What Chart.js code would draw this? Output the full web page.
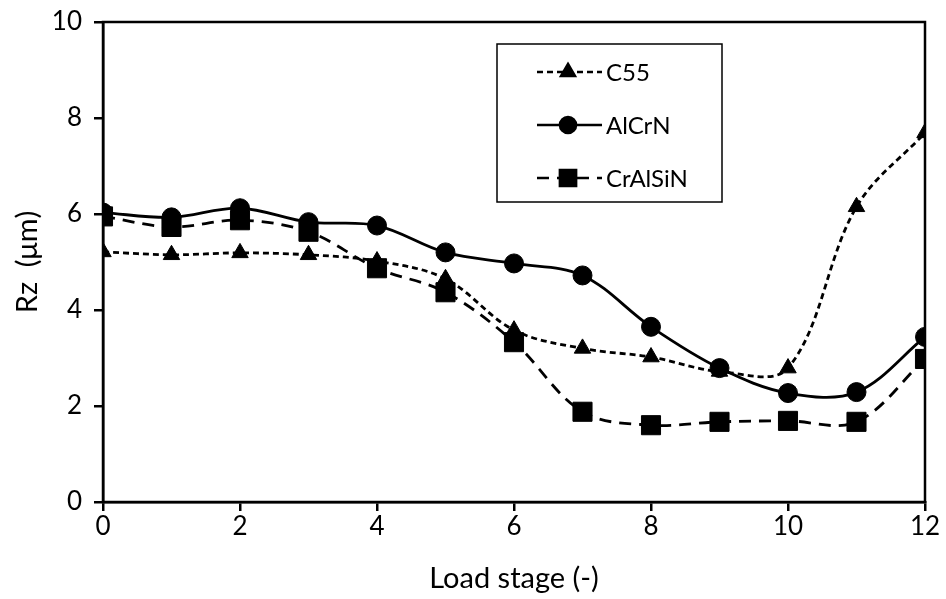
<!DOCTYPE html>
<html>
<head>
<meta charset="utf-8">
<script src="https://cdn.jsdelivr.net/npm/chart.js@4.4.1/dist/chart.umd.min.js"></script>
<style>
  html, body { margin: 0; padding: 0; background: #fff; }
  #wrap { width: 946px; height: 599px; }
</style>
</head>
<body>
<div id="wrap"><canvas id="chart"></canvas></div>
<script>
/* ==== Data ==== */
const stages = [0, 1, 2, 3, 4, 5, 6, 7, 8, 9, 10, 11, 12];
const c55     = [5.21, 5.15, 5.19, 5.15, 5.02, 4.65, 3.58, 3.20, 3.02, 2.72, 2.79, 6.15, 7.69];
const alcrn   = [6.03, 5.93, 6.12, 5.83, 5.76, 5.20, 4.97, 4.72, 3.65, 2.79, 2.27, 2.29, 3.44];
const cralsin = [5.95, 5.73, 5.87, 5.63, 4.87, 4.37, 3.33, 1.88, 1.60, 1.67, 1.69, 1.67, 2.98];
const xTicks = [0, 2, 4, 6, 8, 10, 12];
const yTicks = [0, 2, 4, 6, 8, 10];

const FONT = "Lato, 'Liberation Sans', sans-serif";

function pts(vals){ return stages.map((x, i) => ({ x: x, y: vals[i] })); }

const series = [
  { label: 'C55',     data: c55,     dash: [6, 4],  style: 'triangle', radius: 9.5 },
  { label: 'AlCrN',   data: alcrn,   dash: [],      style: 'circle',   radius: 9.5 },
  { label: 'CrAlSiN', data: cralsin, dash: [12, 8], style: 'rect',     radius: 13.5 }
];

/* ==== Plot frame (box round the chart area) ==== */
const framePlugin = {
  id: 'frame',
  beforeDatasetsDraw(chart){
    const { ctx, chartArea: a } = chart;
    ctx.save();
    ctx.strokeStyle = '#000';
    ctx.lineWidth = 2.5;
    ctx.strokeRect(a.left, a.top, a.right - a.left, a.bottom - a.top);
    ctx.restore();
  }
};

/* ==== Boxed legend inside the plot ==== */
const boxLegend = {
  id: 'boxLegend',
  afterDraw(chart){
    const ctx = chart.ctx;
    const box = { x: 497, y: 44, w: 225, h: 158 };
    ctx.save();
    ctx.fillStyle = '#fff';
    ctx.fillRect(box.x, box.y, box.w, box.h);
    ctx.strokeStyle = '#000';
    ctx.lineWidth = 1.5;
    ctx.strokeRect(box.x, box.y, box.w, box.h);

    const rows = [72, 125, 178];
    chart.data.datasets.forEach((ds, i) => {
      const y = rows[i];
      ctx.strokeStyle = '#000';
      ctx.lineWidth = 2.5;
      ctx.setLineDash(ds.borderDash || []);
      ctx.beginPath();
      ctx.moveTo(537, y);
      ctx.lineTo(602, y);
      ctx.stroke();
      ctx.setLineDash([]);
      ctx.fillStyle = '#000';
      Chart.helpers.drawPoint(ctx, {
        pointStyle: ds.pointStyle,
        radius: ds.pointRadius * 0.85,
        rotation: 0,
        borderWidth: 1
      }, 568, y);
      ctx.fillStyle = '#000';
      ctx.font = "24px " + FONT;
      ctx.textBaseline = 'middle';
      ctx.textAlign = 'left';
      ctx.fillText(ds.label, 606, y + 1);
    });
    ctx.restore();
  }
};

const datasets = series.map(s => ({
  label: s.label,
  data: pts(s.data),
  borderColor: '#000',
  backgroundColor: '#000',
  borderWidth: 2.8,
  borderDash: s.dash,
  pointStyle: s.style,
  pointRadius: s.radius,
  pointHoverRadius: s.radius,
  pointBackgroundColor: '#000',
  pointBorderColor: '#000',
  pointBorderWidth: 1,
  tension: 0.35,
  fill: false
}));

new Chart(document.getElementById('chart'), {
  type: 'line',
  data: { datasets: datasets },
  options: {
    responsive: true,
    maintainAspectRatio: false,
    animation: false,
    layout: { padding: { top: 22, right: 21, left: 0, bottom: 0 } },
    plugins: { legend: { display: false }, tooltip: { enabled: false } },
    scales: {
      x: {
        type: 'linear',
        min: 0, max: 12,
        afterBuildTicks(scale){ scale.ticks = xTicks.map(v => ({ value: v })); },
        afterFit(scale){ scale.height = 97; scale.paddingLeft = 0; scale.paddingRight = 0; },
        grid: { drawOnChartArea: false, drawTicks: true, tickLength: 9, tickColor: '#000', lineWidth: 2.5 },
        border: { display: true, color: '#000', width: 2.5 },
        ticks: { color: '#000', font: { family: FONT, size: 26 }, padding: 0, maxRotation: 0 },
        title: { display: true, text: 'Load stage (-)', color: '#000',
                 font: { family: FONT, size: 29 }, padding: { top: 0, bottom: 3 } }
      },
      y: {
        min: 0, max: 10,
        afterBuildTicks(scale){ scale.ticks = yTicks.map(v => ({ value: v })); },
        afterFit(scale){ scale.width = 103; scale.paddingTop = 0; scale.paddingBottom = 0; },
        grid: { drawOnChartArea: false, drawTicks: true, tickLength: 9, tickColor: '#000', lineWidth: 2.5 },
        border: { display: true, color: '#000', width: 2.5 },
        ticks: { color: '#000', font: { family: FONT, size: 26 }, padding: 12 },
        title: { display: true, text: 'Rz  (μm)', color: '#000',
                 font: { family: FONT, size: 29 }, padding: { top: 10, bottom: 0 } }
      }
    }
  },
  plugins: [framePlugin, boxLegend]
});
</script>
</body>
</html>
